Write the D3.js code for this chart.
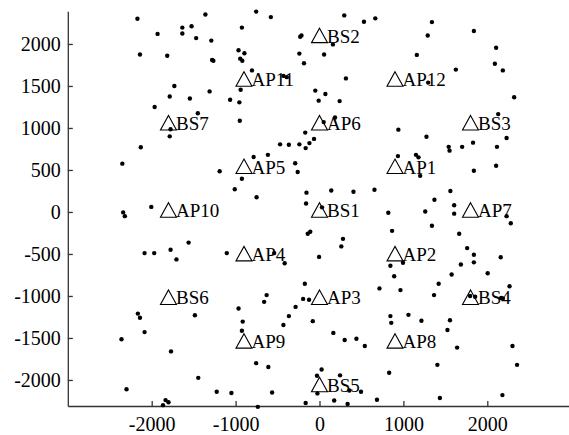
<!DOCTYPE html>
<html>
<head>
<meta charset="utf-8">
<script src="https://cdnjs.cloudflare.com/ajax/libs/d3/7.8.5/d3.min.js"></script>
<style>
  body { margin: 0; background: #fff; }
  .axis path, .axis line { stroke: #333; stroke-width: 1.3px; }
  .axis text { font-family: "Liberation Serif", "Times New Roman", serif; font-size: 20px; fill: #000; }
  .site text { font-family: "Liberation Serif", "Times New Roman", serif; font-size: 19px; fill: #000; }
</style>
</head>
<body>
<div id="card"></div>
<script>
//user positions (metres)
const dotX = [-2170,-1930,-1635,-1635,-1525,-1470,-2140,-1815,-1730,-1785,-1545,-1965,-1450,-1775,-1785,-2130,-2350,-2005,-2340,-2320,
  -1560,-2085,-1970,-1775,-1705,-1485,-2165,-2140,-2085,-2360,-1770,-1445,-2300,-1835,-1800,-1865,
  -1360,-1290,-1280,-1265,-925,-755,-580,-965,-895,-945,-920,-805,-430,-390,-940,-1310,-1065,-955,-950,
  -230,-215,-240,-185,55,160,295,530,665,315,-50,70,-10,240,185,50,-170,-65,-120,-165,-240,-365,-470,-615,-785,
  -290,-260,-1190,-925,-1010,-750,-155,140,405,655,-160,30,
  -1105,-540,-415,-140,-110,280,260,-5,-175,715,-630,-660,-195,-125,-285,-365,-430,-80,-965,-915,-925,
  165,300,440,540,-755,-610,25,-30,245,-1225,-1050,-565,-25,355,495,-165,175,335,685,-735,
  1340,1290,1840,2105,2090,2185,1160,1625,1295,2320,2130,940,1275,1540,1550,1700,1830,2115,2230,
  935,1150,1180,1200,1840,2105,1560,1370,820,1260,1605,1605,2230,
  2280,1340,865,1665,1760,1840,1840,2160,1685,995,845,890,1575,2005,1420,965,1365,2265,1795,1855,2165,2185,
  845,855,1060,1215,1555,1525,1640,2300,1405,2355,830,1435,2180];
const dotY = [2300,2120,2195,2125,2210,2070,1875,1860,1500,1375,1350,1250,1175,985,900,770,575,60,-5,-50,
  -365,-490,-490,-450,-565,-1230,-1210,-1260,-1430,-1515,-1660,-1975,-2110,-2240,-2265,-2300,
  2350,2040,1810,1800,2195,2385,2320,1925,1890,1825,1800,1685,1620,1605,1455,1435,1335,1305,1085,
  2085,2100,1885,1770,1875,1995,2340,2265,2305,1590,1445,1405,1325,1320,1125,1070,945,870,820,760,805,800,805,680,655,
  580,475,485,395,270,175,230,255,240,265,100,55,
  -490,-490,-610,-260,-235,-320,-410,-535,-855,-910,-990,-1070,-1035,-1045,-1130,-1240,-1345,-1300,-1150,-1305,-1415,
  -1440,-1525,-1510,-1595,-1800,-1845,-1875,-1950,-1945,-2140,-2155,-2150,-2160,-2125,-2140,-2275,-2245,-2285,-2235,-2320,
  2260,2100,2155,1955,1765,1685,1870,1695,1540,1365,1165,980,895,775,730,775,825,775,880,
  665,680,650,430,490,550,250,145,-10,5,80,-20,-50,
  -135,-165,-225,-260,-430,-510,-600,-540,-625,-605,-640,-765,-745,-730,-855,-930,-990,-885,-1000,-1010,-1025,-1030,
  -1240,-1320,-1225,-1295,-1290,-1405,-1615,-1595,-1820,-1820,-1915,-2215,-2180];

//base stations and access points
const siteNames = ["BS1","BS2","BS3","BS4","BS5","BS6","BS7",
  "AP1","AP2","AP3","AP4","AP5","AP6","AP7","AP8","AP9","AP10","AP11","AP12"];
const siteX = [0,0,1800,1800,0,-1800,-1800,
  900,900,0,-900,-900,0,1800,900,-900,-1800,-900,900];
const siteY = [0,2078,1039,-1039,-2078,-1039,1039,
  520,-520,-1039,-520,520,1039,0,-1559,-1559,0,1559,1559];

//tick labels
const xTicks = [-2000,-1000,0,1000,2000];
const yTicks = [-2000,-1500,-1000,-500,0,500,1000,1500,2000];

const w = 569;
const h = 435;

const svg = d3.select("#card")
  .append("svg")
    .attr("width", w)
    .attr("height", h);

//scales
const x = d3.scaleLinear()
  .domain([-3000, 3000])
  .range([67.8, 571.2]);

const y = d3.scaleLinear()
  .domain([-2310, 2390])
  .range([406, 11.2]);

//axes with inward ticks
const xAxis = d3.axisBottom(x)
  .tickValues(xTicks)
  .tickFormat(d => String(d))
  .tickSizeInner(-5)
  .tickSizeOuter(0)
  .tickPadding(11);

const yAxis = d3.axisLeft(y)
  .tickValues(yTicks)
  .tickFormat(d => String(d))
  .tickSizeInner(-5)
  .tickSizeOuter(0)
  .tickPadding(7);

svg.append("g")
  .classed("x axis", true)
  .attr("transform", "translate(0," + y.range()[0] + ")")
  .call(xAxis);

svg.append("g")
  .classed("y axis", true)
  .attr("transform", "translate(" + x.range()[0] + ",0)")
  .call(yAxis);

//users
svg.append("g")
  .selectAll("circle")
  .data(d3.range(dotX.length))
  .enter()
    .append("circle")
    .attr("cx", i => x(dotX[i]))
    .attr("cy", i => y(dotY[i]))
    .attr("r", 2.2)
    .style("fill", "#000");

//sites: open triangle + name
const triW = 16;
const triH = 14.5;
const site = svg.append("g")
  .classed("site", true)
  .selectAll("g")
  .data(d3.range(siteNames.length))
  .enter()
    .append("g")
    .attr("transform", i => "translate(" + x(siteX[i]) + "," + (y(siteY[i]) - 2) + ")");

site.append("path")
  .attr("d", "M0," + (-triH / 2) + "L" + (triW / 2) + "," + (triH / 2) + "L" + (-triW / 2) + "," + (triH / 2) + "Z")
  .style("fill", "none")
  .style("stroke", "#000")
  .style("stroke-width", 1.1);

site.append("text")
  .attr("x", triW / 2 - 0.5)
  .attr("y", triH / 2)
  .text(i => siteNames[i]);
</script>
</body>
</html>
